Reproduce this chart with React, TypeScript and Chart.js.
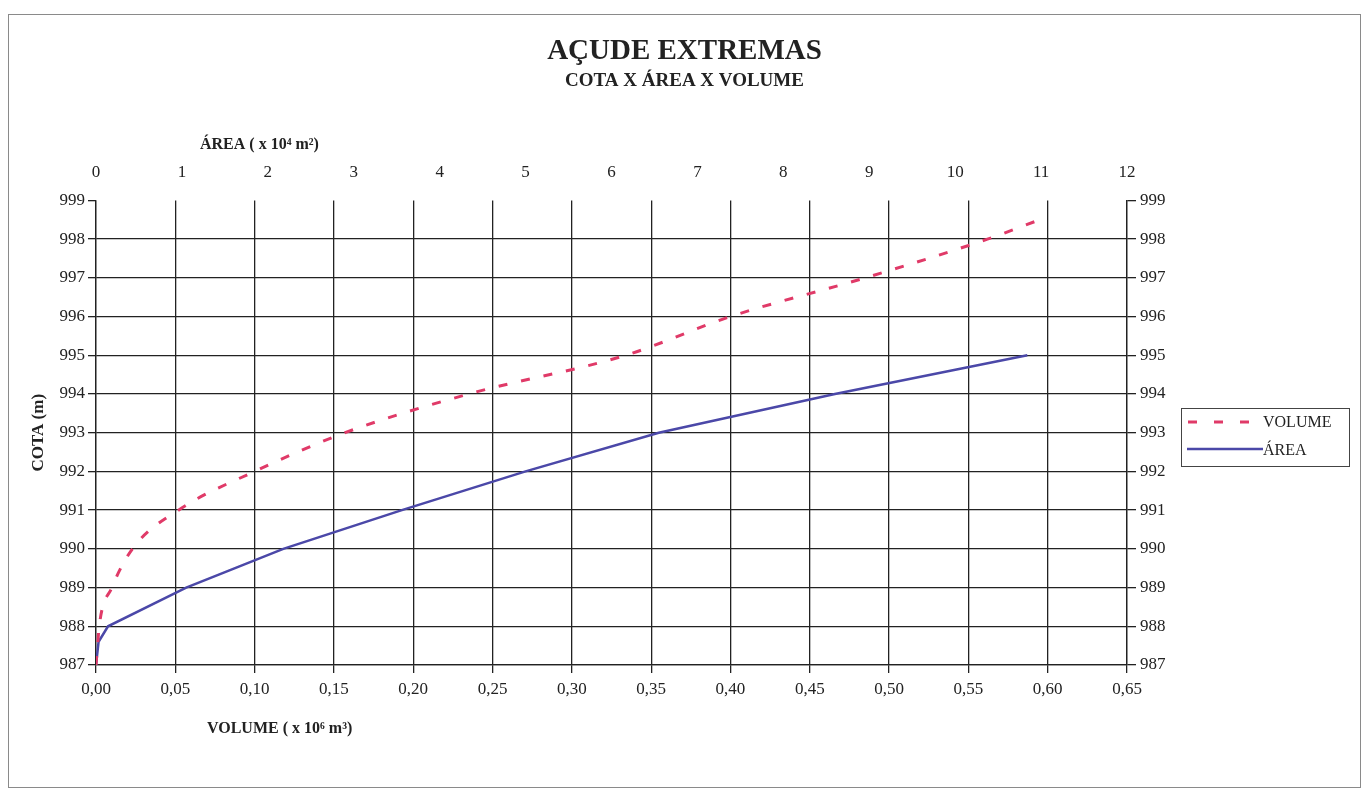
import React, { useEffect, useRef } from "react";
import { Chart, registerables } from "chart.js";

Chart.register(...registerables);

// ---- data ----
const volumeCota = [987, 987.5, 988, 989, 990, 991, 992, 993, 994, 995, 996, 997, 998, 998.5];
const volumeValues = [0, 0.001, 0.002, 0.01, 0.023, 0.052, 0.1, 0.157, 0.235, 0.334, 0.4, 0.485, 0.562, 0.595];

const areaCota = [987, 987.6, 988, 989, 990, 991, 992, 993, 994, 995];
const areaValues = [0, 0.03, 0.14, 1.05, 2.18, 3.56, 5.0, 6.55, 8.6, 10.84];

const volumeTicks = [0, 0.05, 0.1, 0.15, 0.2, 0.25, 0.3, 0.35, 0.4, 0.45, 0.5, 0.55, 0.6, 0.65];
const areaTicks = [0, 1, 2, 3, 4, 5, 6, 7, 8, 9, 10, 11, 12];
const cotaTicks = [987, 988, 989, 990, 991, 992, 993, 994, 995, 996, 997, 998, 999];

const FONT = "'Liberation Serif', 'Times New Roman', serif";
const INK = "#222";
const RED = "#e03a68";
const BLUE = "#4b48a8";

const extrasPlugin = {
  id: "extras",
  afterDraw(chart: any) {
    const ctx = chart.ctx as CanvasRenderingContext2D;
    ctx.save();
    ctx.fillStyle = INK;
    ctx.textBaseline = "middle";
    ctx.textAlign = "left";
    ctx.font = `bold 16px ${FONT}`;
    // axis titles
    ctx.fillText("ÁREA ( x 10⁴ m²)", 191, 130);
    ctx.fillText("VOLUME ( x 10⁶ m³)", 198, 714);

    // legend box
    const lx = 1172, ly = 393, lw = 168, lh = 58;
    ctx.strokeStyle = "#444";
    ctx.lineWidth = 1;
    ctx.strokeRect(lx + 0.5, ly + 0.5, lw, lh);

    ctx.lineWidth = 3;
    ctx.strokeStyle = RED;
    ctx.setLineDash([9, 17]);
    ctx.beginPath();
    ctx.moveTo(1179, 407);
    ctx.lineTo(1242, 407);
    ctx.stroke();
    ctx.setLineDash([]);

    ctx.lineWidth = 2.5;
    ctx.strokeStyle = BLUE;
    ctx.beginPath();
    ctx.moveTo(1178, 434);
    ctx.lineTo(1254, 434);
    ctx.stroke();

    ctx.font = `16px ${FONT}`;
    ctx.fillStyle = INK;
    ctx.fillText("VOLUME", 1254, 408);
    ctx.fillText("ÁREA", 1254, 436);
    ctx.restore();
  },
};

export default function App() {
  const ref = useRef<HTMLCanvasElement | null>(null);

  useEffect(() => {
    if (!ref.current) return;
    const volData = volumeValues.map((v, i) => ({ x: v, y: volumeCota[i] }));
    const areaData = areaValues.map((v, i) => ({ x: v, y: areaCota[i] }));

    const tickFont = { family: FONT, size: 17 };

    const chart = new Chart(ref.current, {
      type: "line",
      data: {
        datasets: [
          {
            label: "VOLUME",
            data: volData,
            xAxisID: "x",
            yAxisID: "y",
            borderColor: RED,
            backgroundColor: RED,
            borderWidth: 3,
            borderDash: [9, 14],
            pointRadius: 0,
            fill: false,
            cubicInterpolationMode: "monotone",
          },
          {
            label: "ÁREA",
            data: areaData,
            xAxisID: "x2",
            yAxisID: "y",
            borderColor: BLUE,
            backgroundColor: BLUE,
            borderWidth: 2.5,
            pointRadius: 0,
            fill: false,
            tension: 0,
          },
        ],
      },
      options: {
        animation: false,
        responsive: true,
        maintainAspectRatio: false,
        layout: { padding: { left: 0, right: 0, top: 0, bottom: 0 } },
        plugins: {
          legend: { display: false },
          tooltip: { enabled: false },
          title: {
            display: true,
            text: "AÇUDE EXTREMAS",
            color: INK,
            font: { family: FONT, size: 29, weight: "bold" },
            padding: { top: 19.6, bottom: 0 },
          },
          subtitle: {
            display: true,
            text: "COTA X ÁREA X VOLUME",
            color: INK,
            font: { family: FONT, size: 19, weight: "bold" },
            padding: { top: 0.6, bottom: 0 },
          },
        },
        scales: {
          x: {
            type: "linear",
            position: "bottom",
            min: 0,
            max: 0.65,
            afterBuildTicks: (s: any) => {
              s.ticks = volumeTicks.map((v) => ({ value: v }));
            },
            afterFit: (s: any) => {
              s.height = 122;
            },
            grid: { color: INK, lineWidth: 1.3, tickLength: 8, drawTicks: true },
            border: { display: true, color: INK, width: 1.3 },
            ticks: {
              font: tickFont,
              color: INK,
              padding: 6,
              maxRotation: 0,
              autoSkip: false,
              callback: (v: any) => Number(v).toFixed(2).replace(".", ","),
            },
          },
          x2: {
            type: "linear",
            position: "top",
            min: 0,
            max: 12,
            afterBuildTicks: (s: any) => {
              s.ticks = areaTicks.map((v) => ({ value: v }));
            },
            afterFit: (s: any) => {
              s.height = 107.6;
            },
            grid: { display: false, drawTicks: false },
            border: { display: false },
            ticks: {
              font: tickFont,
              color: INK,
              padding: 18,
              maxRotation: 0,
              autoSkip: false,
              callback: (v: any) => String(v),
            },
          },
          y: {
            type: "linear",
            position: "left",
            min: 987,
            max: 999,
            afterBuildTicks: (s: any) => {
              s.ticks = cotaTicks.map((v) => ({ value: v }));
            },
            afterFit: (s: any) => {
              s.width = 87;
            },
            grid: {
              color: (c: any) => (c.tick && c.tick.value === 999 ? "rgba(0,0,0,0)" : INK),
              tickColor: INK,
              lineWidth: 1.3,
              tickLength: 8,
            },
            border: { display: true, color: INK, width: 1.3 },
            title: {
              display: true,
              text: "COTA (m)",
              color: INK,
              font: { family: FONT, size: 17, weight: "bold" },
              padding: { top: 19, bottom: 0 },
            },
            ticks: {
              font: tickFont,
              color: INK,
              padding: 3,
              autoSkip: false,
              callback: (v: any) => String(v),
            },
          },
          y2: {
            type: "linear",
            position: "right",
            min: 987,
            max: 999,
            afterBuildTicks: (s: any) => {
              s.ticks = cotaTicks.map((v) => ({ value: v }));
            },
            afterFit: (s: any) => {
              s.width = 233;
            },
            grid: {
              drawOnChartArea: false,
              color: INK,
              tickColor: INK,
              lineWidth: 1.3,
              tickLength: 9,
            },
            border: { display: true, color: INK, width: 1.3 },
            ticks: {
              font: tickFont,
              color: INK,
              padding: 4,
              autoSkip: false,
              callback: (v: any) => String(v),
            },
          },
        },
      },
      plugins: [extrasPlugin],
    });

    return () => chart.destroy();
  }, []);

  return (
    <div
      style={{
        position: "absolute",
        left: 8,
        top: 14,
        width: 1353,
        height: 774,
        border: "1px solid #8a8a8a",
        boxSizing: "border-box",
        background: "#fff",
      }}
    >
      <div style={{ position: "relative", width: 1351, height: 772 }}>
        <canvas ref={ref} />
      </div>
    </div>
  );
}
